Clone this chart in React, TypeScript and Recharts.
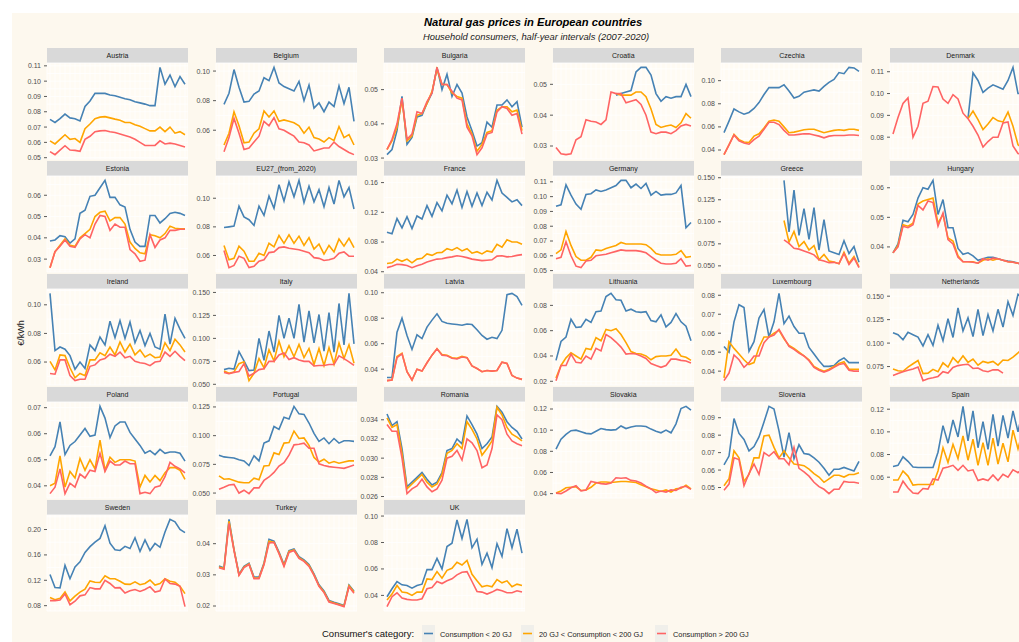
import React from "react";
import { LineChart, Line, XAxis, YAxis, CartesianGrid } from "recharts";

// half-year periods 2007S1 .. 2020S2
const periods = [
  "2007S1", "2007S2", "2008S1", "2008S2", "2009S1", "2009S2", "2010S1", "2010S2",
  "2011S1", "2011S2", "2012S1", "2012S2", "2013S1", "2013S2", "2014S1", "2014S2",
  "2015S1", "2015S2", "2016S1", "2016S2", "2017S1", "2017S2", "2018S1", "2018S2",
  "2019S1", "2019S2", "2020S1", "2020S2",
];

const categories = [
  "Consumption < 20 GJ",
  "20 GJ < Consumption < 200 GJ",
  "Consumption > 200 GJ",
];

const N = null;
const n12 = [N, N, N, N, N, N, N, N, N, N, N, N];

const austria = {
  ticks: ["0.05", "0.06", "0.07", "0.08", "0.09", "0.10", "0.11"],
  small: [0.075, 0.073, 0.0755, 0.0785, 0.076, 0.0755, 0.074, 0.0835, 0.087, 0.092, 0.092, 0.092, 0.091, 0.0905, 0.0895, 0.0885, 0.0878, 0.0865, 0.0858, 0.085, 0.084, 0.084, 0.109, 0.098, 0.104, 0.0965, 0.103, 0.098],
  mid: [0.061, 0.059, 0.062, 0.065, 0.062, 0.0625, 0.06, 0.069, 0.072, 0.0755, 0.0765, 0.0768, 0.076, 0.0752, 0.0745, 0.073, 0.073, 0.0715, 0.0705, 0.069, 0.0675, 0.0675, 0.07, 0.067, 0.07, 0.066, 0.067, 0.065],
  large: [0.054, 0.052, 0.055, 0.0578, 0.055, 0.0548, 0.0542, 0.062, 0.064, 0.067, 0.0675, 0.0678, 0.067, 0.0665, 0.0655, 0.0645, 0.0635, 0.062, 0.06, 0.058, 0.058, 0.058, 0.061, 0.059, 0.0595, 0.059, 0.058, 0.057],
};

const belgium = {
  ticks: ["0.06", "0.08", "0.10"],
  small: [N, 0.0775, 0.085, 0.101, 0.089, 0.079, 0.0795, 0.0845, 0.0865, 0.0955, 0.0935, 0.1025, 0.092, 0.0895, 0.088, 0.0865, 0.093, 0.08, 0.0905, 0.075, 0.0785, 0.0725, 0.079, 0.076, 0.09, 0.078, 0.089, 0.066],
  mid: [N, 0.05, 0.058, 0.0725, 0.063, 0.0515, 0.052, 0.058, 0.061, 0.073, 0.069, 0.073, 0.066, 0.067, 0.066, 0.065, 0.063, 0.058, 0.062, 0.055, 0.054, 0.052, 0.055, 0.053, 0.0625, 0.055, 0.057, 0.05],
  large: [N, 0.0455, 0.055, 0.068, 0.058, 0.047, 0.048, 0.052, 0.056, 0.066, 0.063, 0.0685, 0.061, 0.06, 0.058, 0.056, 0.052, 0.0515, 0.05, 0.046, 0.047, 0.048, 0.048, 0.052, 0.049, 0.047, 0.045, 0.0435],
};

const bulgaria = {
  ticks: ["0.03", "0.04", "0.05"],
  small: [0.031, 0.0325, 0.038, 0.048, 0.034, 0.036, 0.042, 0.0425, 0.046, 0.049, 0.0565, 0.05, 0.0545, 0.048, 0.0515, 0.049, 0.042, 0.038, 0.0335, 0.0345, 0.0405, 0.039, 0.0455, 0.0455, 0.047, 0.045, 0.0465, 0.039],
  mid: [0.0325, 0.035, 0.039, 0.047, 0.035, 0.0365, 0.0425, 0.043, 0.046, 0.0495, 0.056, 0.0515, 0.0515, 0.049, 0.048, 0.0475, 0.04, 0.037, 0.032, 0.034, 0.0375, 0.038, 0.044, 0.045, 0.045, 0.0435, 0.044, 0.038],
  large: [0.0325, 0.0355, 0.04, 0.0475, 0.0355, 0.037, 0.0435, 0.043, 0.0465, 0.049, 0.0565, 0.0515, 0.0515, 0.0495, 0.0475, 0.047, 0.039, 0.0365, 0.031, 0.033, 0.037, 0.0375, 0.0435, 0.045, 0.0445, 0.0425, 0.043, 0.037],
};

const croatia = {
  ticks: ["0.03", "0.04", "0.05"],
  small: [...n12, 0.0465, 0.047, 0.0475, 0.048, 0.054, 0.0555, 0.0555, 0.053, 0.047, 0.0445, 0.046, 0.0455, 0.046, 0.046, 0.05, 0.046],
  mid: [...n12, 0.047, 0.0465, 0.0465, 0.0465, 0.0475, 0.0475, 0.046, 0.042, 0.037, 0.036, 0.0365, 0.0368, 0.036, 0.0375, 0.0405, 0.039],
  large: [0.0295, 0.0275, 0.0272, 0.0275, 0.032, 0.033, 0.0385, 0.038, 0.0378, 0.037, 0.0385, 0.0475, 0.047, 0.047, 0.044, 0.0445, 0.045, 0.0435, 0.04, 0.0345, 0.034, 0.0345, 0.0345, 0.034, 0.035, 0.0365, 0.037, 0.0365],
};

const czechia = {
  ticks: ["0.04", "0.06", "0.08", "0.10"],
  small: [0.055, 0.065, 0.0755, 0.073, 0.071, 0.0725, 0.076, 0.081, 0.088, 0.094, 0.094, 0.094, 0.0965, 0.091, 0.085, 0.0865, 0.09, 0.091, 0.092, 0.091, 0.095, 0.0985, 0.101, 0.107, 0.106, 0.1115, 0.111, 0.108],
  mid: [0.036, 0.0445, 0.0535, 0.049, 0.047, 0.0465, 0.052, 0.054, 0.059, 0.065, 0.066, 0.065, 0.06, 0.055, 0.0555, 0.0565, 0.0575, 0.058, 0.058, 0.0565, 0.055, 0.056, 0.057, 0.0575, 0.057, 0.058, 0.058, 0.057],
  large: [0.036, 0.0445, 0.053, 0.048, 0.046, 0.045, 0.049, 0.052, 0.058, 0.064, 0.064, 0.062, 0.057, 0.053, 0.053, 0.0535, 0.054, 0.054, 0.053, 0.052, 0.0505, 0.052, 0.0525, 0.0525, 0.0525, 0.053, 0.053, 0.0525],
};

const denmark = {
  ticks: ["0.08", "0.09", "0.10", "0.11"],
  small: [N, N, N, N, N, N, N, N, N, N, N, N, N, N, N, 0.0885, 0.1095, 0.106, 0.1005, 0.1025, 0.104, 0.103, 0.102, 0.106, 0.112, 0.1, 0.1, 0.101],
  mid: [N, N, N, N, N, N, N, N, N, N, N, N, N, N, N, 0.0885, 0.092, 0.088, 0.0835, 0.086, 0.089, 0.0875, 0.087, 0.0915, 0.085, 0.0765, 0.075, 0.076],
  large: [0.0815, 0.089, 0.0955, 0.098, 0.08, 0.085, 0.0955, 0.0965, 0.1032, 0.103, 0.0975, 0.0955, 0.0995, 0.0975, 0.091, 0.0885, 0.085, 0.081, 0.0755, 0.078, 0.08, 0.08, 0.0865, 0.087, 0.076, 0.0725, 0.072, 0.074],
};

const estonia = {
  ticks: ["0.03", "0.04", "0.05", "0.06"],
  small: [0.0385, 0.039, 0.041, 0.0405, 0.0375, 0.0395, 0.0515, 0.053, 0.0595, 0.06, 0.0635, 0.067, 0.059, 0.059, 0.0555, 0.0545, 0.044, 0.038, 0.036, 0.036, 0.0505, 0.0505, 0.047, 0.049, 0.0515, 0.052, 0.0515, 0.0505],
  mid: [0.026, 0.0335, 0.0365, 0.0395, 0.0365, 0.036, 0.04, 0.042, 0.044, 0.05, 0.052, 0.0525, 0.048, 0.0495, 0.0495, 0.0465, 0.038, 0.035, 0.033, 0.0325, 0.0415, 0.041, 0.04, 0.042, 0.0455, 0.0445, 0.0443, 0.0443],
  large: [0.026, 0.0335, 0.036, 0.039, 0.036, 0.0355, 0.0395, 0.0415, 0.04, 0.0465, 0.0505, 0.05, 0.0435, 0.0465, 0.045, 0.045, 0.0345, 0.0325, 0.029, 0.0295, 0.0415, 0.0355, 0.039, 0.04, 0.0435, 0.0435, 0.044, 0.044],
};

const eu27 = {
  ticks: ["0.06", "0.08", "0.10"],
  small: [N, 0.0795, 0.08, 0.0805, 0.0945, 0.087, 0.085, 0.081, 0.0945, 0.088, 0.1015, 0.093, 0.1095, 0.098, 0.1115, 0.101, 0.1125, 0.097, 0.1085, 0.0975, 0.106, 0.094, 0.1075, 0.096, 0.1125, 0.101, 0.1075, 0.0925],
  mid: [N, 0.067, 0.057, 0.058, 0.0665, 0.063, 0.056, 0.056, 0.0615, 0.06, 0.0685, 0.066, 0.074, 0.0685, 0.0745, 0.0685, 0.0735, 0.067, 0.0725, 0.0645, 0.068, 0.061, 0.067, 0.0625, 0.0715, 0.0665, 0.072, 0.0655],
  large: [N, 0.0635, 0.0515, 0.053, 0.0595, 0.058, 0.0515, 0.0525, 0.056, 0.057, 0.062, 0.0625, 0.0655, 0.066, 0.065, 0.0645, 0.064, 0.063, 0.062, 0.0585, 0.058, 0.0565, 0.057, 0.058, 0.0615, 0.0625, 0.0595, 0.0595],
};

const france = {
  ticks: ["0.04", "0.08", "0.12", "0.16"],
  small: [0.093, 0.091, 0.1115, 0.099, 0.114, 0.098, 0.115, 0.111, 0.129, 0.1145, 0.133, 0.122, 0.143, 0.1315, 0.15, 0.1265, 0.148, 0.128, 0.146, 0.129, 0.147, 0.1365, 0.163, 0.146, 0.14, 0.134, 0.137, 0.129],
  mid: [0.051, 0.052, 0.057, 0.054, 0.057, 0.052, 0.057, 0.058, 0.064, 0.062, 0.0655, 0.066, 0.071, 0.069, 0.0725, 0.068, 0.071, 0.065, 0.067, 0.064, 0.068, 0.0665, 0.077, 0.073, 0.083, 0.08, 0.08, 0.077],
  large: [0.0455, 0.0475, 0.05, 0.0495, 0.0485, 0.0455, 0.048, 0.05, 0.053, 0.055, 0.057, 0.0575, 0.059, 0.06, 0.0615, 0.0605, 0.059, 0.057, 0.056, 0.055, 0.0555, 0.056, 0.061, 0.0615, 0.06, 0.0605, 0.062, 0.063],
};

const germany = {
  ticks: ["0.05", "0.06", "0.07", "0.08", "0.09", "0.10", "0.11"],
  small: [0.0935, 0.0945, 0.108, 0.101, 0.095, 0.0915, 0.1015, 0.102, 0.1045, 0.1035, 0.1045, 0.106, 0.1075, 0.111, 0.111, 0.106, 0.1085, 0.1055, 0.109, 0.101, 0.1035, 0.101, 0.1015, 0.1015, 0.1025, 0.1075, 0.079, 0.0825],
  mid: [0.0615, 0.064, 0.0765, 0.067, 0.0595, 0.057, 0.057, 0.059, 0.064, 0.0635, 0.065, 0.066, 0.067, 0.069, 0.068, 0.068, 0.068, 0.068, 0.0675, 0.065, 0.0615, 0.0605, 0.0605, 0.0605, 0.061, 0.0635, 0.059, 0.0595],
  large: [0.058, 0.059, 0.0695, 0.06, 0.053, 0.052, 0.0565, 0.057, 0.06, 0.0605, 0.061, 0.062, 0.063, 0.064, 0.0635, 0.0635, 0.0635, 0.063, 0.062, 0.0595, 0.057, 0.055, 0.0545, 0.0545, 0.055, 0.058, 0.053, 0.0535],
};

const greece = {
  ticks: ["0.050", "0.075", "0.100", "0.125", "0.150"],
  small: [...n12, 0.147, 0.0885, 0.136, 0.0845, 0.115, 0.08, 0.116, 0.068, 0.1025, 0.067, 0.065, 0.063, 0.0785, 0.064, 0.072, 0.054],
  mid: [...n12, 0.1015, 0.077, 0.089, 0.072, 0.0775, 0.068, 0.073, 0.057, 0.063, 0.0555, 0.0545, 0.0525, 0.0655, 0.053, 0.0605, 0.049],
  large: [...n12, 0.0795, 0.0755, 0.07, 0.069, 0.067, 0.065, 0.0625, 0.057, 0.0555, 0.0535, 0.054, 0.0525, 0.064, 0.0515, 0.059, 0.048],
};

const hungary = {
  ticks: ["0.04", "0.05", "0.06"],
  small: [0.038, 0.041, 0.049, 0.0485, 0.051, 0.0565, 0.06, 0.0595, 0.0625, 0.051, 0.056, 0.0465, 0.0465, 0.0395, 0.0375, 0.038, 0.037, 0.0355, 0.036, 0.0365, 0.0365, 0.036, 0.0355, 0.0352, 0.035, 0.0345, 0.034, 0.0335],
  mid: [0.038, 0.0405, 0.0475, 0.047, 0.048, 0.0545, 0.0555, 0.056, 0.0565, 0.048, 0.051, 0.043, 0.042, 0.037, 0.035, 0.035, 0.035, 0.0345, 0.0355, 0.036, 0.0355, 0.036, 0.0355, 0.035, 0.0348, 0.0345, 0.034, 0.033],
  large: [0.038, 0.04, 0.047, 0.0465, 0.0475, 0.054, 0.0525, 0.0555, 0.055, 0.047, 0.0515, 0.0425, 0.041, 0.0365, 0.035, 0.035, 0.0348, 0.0345, 0.036, 0.0355, 0.0362, 0.036, 0.0355, 0.035, 0.0348, 0.0345, 0.034, 0.033],
};

const ireland = {
  ticks: ["0.06", "0.08", "0.10"],
  small: [0.108, 0.068, 0.0705, 0.069, 0.0645, 0.055, 0.06, 0.0555, 0.072, 0.068, 0.0775, 0.072, 0.0885, 0.077, 0.089, 0.0765, 0.088, 0.0735, 0.082, 0.0715, 0.08, 0.0705, 0.069, 0.0935, 0.0725, 0.0905, 0.083, 0.0765],
  mid: [0.0605, 0.0545, 0.065, 0.0645, 0.056, 0.049, 0.052, 0.0505, 0.0615, 0.0615, 0.0665, 0.0645, 0.0705, 0.065, 0.074, 0.067, 0.0725, 0.065, 0.0685, 0.0635, 0.0655, 0.063, 0.0635, 0.0735, 0.068, 0.076, 0.072, 0.067],
  large: [0.052, 0.0515, 0.0615, 0.0615, 0.0505, 0.047, 0.048, 0.048, 0.057, 0.058, 0.0615, 0.0625, 0.0655, 0.064, 0.067, 0.063, 0.064, 0.0605, 0.0595, 0.059, 0.0575, 0.06, 0.0605, 0.067, 0.064, 0.0675, 0.064, 0.061],
};

const italy = {
  ticks: ["0.050", "0.075", "0.100", "0.125", "0.150"],
  small: [N, 0.066, 0.0675, 0.0665, 0.0855, 0.0755, 0.065, 0.0655, 0.1, 0.076, 0.108, 0.085, 0.125, 0.1, 0.122, 0.1, 0.137, 0.096, 0.13, 0.095, 0.126, 0.086, 0.128, 0.085, 0.138, 0.093, 0.149, 0.094],
  mid: [N, 0.0645, 0.062, 0.0635, 0.0725, 0.0745, 0.054, 0.062, 0.078, 0.068, 0.0875, 0.0755, 0.097, 0.08, 0.092, 0.08, 0.0935, 0.079, 0.089, 0.0715, 0.089, 0.0705, 0.09, 0.072, 0.095, 0.078, 0.093, 0.073],
  large: [N, 0.063, 0.0615, 0.063, 0.064, 0.0725, 0.059, 0.062, 0.066, 0.067, 0.075, 0.075, 0.082, 0.084, 0.077, 0.079, 0.0765, 0.075, 0.075, 0.07, 0.0705, 0.0705, 0.0715, 0.0715, 0.081, 0.078, 0.0745, 0.0705],
};

const latvia = {
  ticks: ["0.04", "0.06", "0.08", "0.10"],
  small: [0.0335, 0.0335, 0.069, 0.08, 0.0665, 0.0555, 0.067, 0.064, 0.073, 0.0785, 0.0835, 0.0775, 0.076, 0.0755, 0.075, 0.0745, 0.0755, 0.075, 0.071, 0.0665, 0.0635, 0.065, 0.064, 0.0705, 0.0985, 0.0995, 0.097, 0.09],
  mid: [0.031, 0.0315, 0.05, 0.0525, 0.038, 0.0315, 0.04, 0.0385, 0.045, 0.051, 0.056, 0.0515, 0.051, 0.049, 0.0485, 0.05, 0.049, 0.0425, 0.0405, 0.038, 0.039, 0.0385, 0.039, 0.0455, 0.0445, 0.035, 0.033, 0.032],
  large: [0.031, 0.0315, 0.049, 0.052, 0.038, 0.0315, 0.04, 0.0385, 0.045, 0.051, 0.056, 0.051, 0.0505, 0.0485, 0.048, 0.0495, 0.049, 0.0425, 0.0405, 0.038, 0.039, 0.0385, 0.039, 0.0455, 0.0445, 0.035, 0.033, 0.032],
};

const lithuania = {
  ticks: ["0.02", "0.04", "0.06", "0.08"],
  small: [0.0365, 0.0515, 0.055, 0.069, 0.0625, 0.063, 0.069, 0.0665, 0.075, 0.0755, 0.087, 0.0895, 0.0845, 0.084, 0.0755, 0.077, 0.075, 0.0745, 0.075, 0.068, 0.067, 0.0725, 0.063, 0.0665, 0.0735, 0.067, 0.0635, 0.052],
  mid: [0.0225, 0.0325, 0.0385, 0.0425, 0.04, 0.0375, 0.046, 0.045, 0.0545, 0.052, 0.061, 0.06, 0.0615, 0.057, 0.0505, 0.0435, 0.042, 0.0415, 0.04, 0.037, 0.0395, 0.04, 0.04, 0.0405, 0.0455, 0.04, 0.039, 0.0365],
  large: [0.0205, 0.0325, 0.0325, 0.0415, 0.035, 0.0345, 0.04, 0.0375, 0.046, 0.044, 0.057, 0.0545, 0.051, 0.047, 0.0415, 0.042, 0.0415, 0.04, 0.038, 0.034, 0.0325, 0.031, 0.0325, 0.0375, 0.0375, 0.0365, 0.036, 0.0345],
};

const luxembourg = {
  ticks: ["0.04", "0.05", "0.06", "0.07", "0.08"],
  small: [0.053, 0.05, 0.066, 0.075, 0.0735, 0.0505, 0.0555, 0.068, 0.0725, 0.058, 0.066, 0.081, 0.065, 0.069, 0.0635, 0.06, 0.06, 0.0525, 0.049, 0.0455, 0.0425, 0.0425, 0.043, 0.0455, 0.047, 0.0445, 0.0445, 0.0445],
  mid: [0.0365, 0.0555, 0.052, 0.049, 0.046, 0.0435, 0.0445, 0.0525, 0.058, 0.058, 0.06, 0.0615, 0.057, 0.0535, 0.052, 0.05, 0.048, 0.046, 0.0425, 0.041, 0.04, 0.041, 0.0425, 0.044, 0.045, 0.041, 0.041, 0.041],
  large: [0.035, 0.039, 0.0485, 0.046, 0.042, 0.0445, 0.048, 0.048, 0.055, 0.058, 0.059, 0.062, 0.0575, 0.053, 0.0515, 0.0495, 0.048, 0.0455, 0.042, 0.0405, 0.0395, 0.0405, 0.042, 0.0435, 0.044, 0.0405, 0.04, 0.04],
};

const netherlands = {
  ticks: ["0.075", "0.100", "0.125", "0.150"],
  small: [0.111, 0.109, 0.1035, 0.1115, 0.109, 0.1065, 0.097, 0.109, 0.0975, 0.119, 0.1025, 0.126, 0.106, 0.1375, 0.113, 0.127, 0.107, 0.136, 0.108, 0.1305, 0.113, 0.136, 0.117, 0.144, 0.1295, 0.152, 0.148, 0.153],
  mid: [0.0725, 0.0705, 0.07, 0.0745, 0.078, 0.0815, 0.0675, 0.068, 0.072, 0.0695, 0.079, 0.0745, 0.0845, 0.079, 0.0865, 0.0795, 0.083, 0.0765, 0.0805, 0.079, 0.0805, 0.0765, 0.082, 0.0815, 0.085, 0.0895, 0.095, 0.0985],
  large: [0.0655, 0.0675, 0.0695, 0.071, 0.0725, 0.0745, 0.06, 0.062, 0.063, 0.0645, 0.0695, 0.068, 0.074, 0.076, 0.077, 0.0775, 0.073, 0.0735, 0.0705, 0.0695, 0.0715, 0.0715, 0.068, N, N, N, N, N],
};

const poland = {
  ticks: ["0.04", "0.05", "0.06", "0.07"],
  small: [0.0515, 0.055, 0.0645, 0.052, 0.0555, 0.057, 0.0595, 0.062, 0.059, 0.0595, 0.0705, 0.066, 0.0585, 0.063, 0.0645, 0.0645, 0.0605, 0.058, 0.0555, 0.0525, 0.0535, 0.052, 0.054, 0.0525, 0.053, 0.053, 0.0525, 0.0495],
  mid: [0.04, 0.041, 0.0515, 0.0395, 0.0455, 0.043, 0.0505, 0.046, 0.05, 0.0465, 0.0575, 0.046, 0.051, 0.049, 0.05, 0.05, 0.05, 0.0495, 0.0395, 0.044, 0.0415, 0.044, 0.042, 0.045, 0.047, 0.047, 0.046, 0.0425],
  large: [0.037, 0.0395, 0.0465, 0.037, 0.041, 0.0395, 0.0445, 0.043, 0.046, 0.0455, 0.0525, 0.0455, 0.0495, 0.048, 0.048, 0.0495, 0.0485, 0.0485, 0.037, 0.0375, 0.037, 0.0395, 0.04, 0.0435, 0.049, 0.0475, 0.0465, 0.045],
};

const portugal = {
  ticks: ["0.050", "0.075", "0.100", "0.125"],
  small: [0.083, 0.0815, 0.081, 0.0805, 0.079, 0.078, 0.074, 0.0825, 0.078, 0.0935, 0.0955, 0.108, 0.1055, 0.116, 0.1145, 0.1255, 0.119, 0.1185, 0.111, 0.102, 0.095, 0.098, 0.093, 0.0975, 0.0935, 0.0955, 0.0955, 0.095],
  mid: [0.065, 0.062, 0.0625, 0.061, 0.0595, 0.059, 0.059, 0.063, 0.0615, 0.0735, 0.074, 0.085, 0.0835, 0.0935, 0.094, 0.104, 0.0975, 0.098, 0.0915, 0.081, 0.077, 0.0795, 0.076, 0.0775, 0.076, 0.077, 0.078, 0.078],
  large: [0.0533, 0.055, 0.057, 0.0575, 0.05, 0.0525, 0.0495, 0.0545, 0.0545, 0.061, 0.064, 0.068, 0.0735, 0.0765, 0.083, 0.092, 0.0925, 0.0935, 0.089, 0.089, 0.0755, 0.074, 0.073, 0.0725, 0.072, 0.0715, 0.073, 0.0745],
};

const romania = {
  ticks: ["0.026", "0.028", "0.030", "0.032", "0.034"],
  small: [0.0346, 0.0334, 0.0338, 0.031, 0.027, 0.0275, 0.028, 0.0285, 0.0278, 0.0272, 0.0275, 0.0285, 0.0308, 0.031, 0.032, 0.0315, 0.0344, 0.0335, 0.0325, 0.031, 0.0315, 0.0322, 0.0354, 0.0348, 0.0338, 0.0332, 0.0328, 0.032],
  mid: [0.0342, 0.0332, 0.0335, 0.0305, 0.0268, 0.0273, 0.0278, 0.0283, 0.0275, 0.027, 0.0273, 0.0283, 0.0305, 0.0308, 0.0315, 0.031, 0.0338, 0.033, 0.032, 0.0303, 0.031, 0.0318, 0.0353, 0.0345, 0.0332, 0.0325, 0.0322, 0.0318],
  large: [0.0335, 0.0328, 0.0328, 0.03, 0.0263, 0.0268, 0.0271, 0.0278, 0.027, 0.0265, 0.0268, 0.0277, 0.03, 0.0302, 0.0308, 0.0298, 0.032, 0.0316, 0.0308, 0.029, 0.0293, 0.031, 0.0345, 0.034, 0.0325, 0.0318, 0.0315, 0.0313],
};

const slovakia = {
  ticks: ["0.04", "0.06", "0.08", "0.10", "0.12"],
  small: [0.082, 0.0915, 0.096, 0.0995, 0.1, 0.0985, 0.097, 0.0965, 0.099, 0.1015, 0.1005, 0.1, 0.1005, 0.104, 0.1015, 0.103, 0.104, 0.104, 0.1035, 0.101, 0.099, 0.0975, 0.1, 0.0975, 0.106, 0.1205, 0.1225, 0.119],
  mid: [0.0405, 0.0425, 0.0455, 0.046, 0.0465, 0.043, 0.0435, 0.046, 0.05, 0.051, 0.051, 0.0505, 0.051, 0.0515, 0.0515, 0.051, 0.0505, 0.0485, 0.0465, 0.0445, 0.0435, 0.042, 0.0435, 0.0415, 0.0445, 0.045, 0.048, 0.0445],
  large: [0.0405, 0.04, 0.0425, 0.0455, 0.0475, 0.0425, 0.0435, 0.0515, 0.0505, 0.0495, 0.049, 0.05, 0.055, 0.0545, 0.055, 0.0525, 0.052, 0.05, 0.047, 0.0445, 0.041, 0.0425, 0.0415, 0.0435, 0.043, 0.046, 0.047, 0.044],
};

const slovenia = {
  ticks: ["0.05", "0.06", "0.07", "0.08", "0.09"],
  small: [0.063, 0.068, 0.0895, 0.081, 0.0775, 0.071, 0.0735, 0.079, 0.0875, 0.0965, 0.095, 0.0825, 0.0675, 0.0815, 0.0665, 0.0745, 0.0695, 0.069, 0.067, 0.0645, 0.061, 0.057, 0.0605, 0.0605, 0.0615, 0.0605, 0.0595, 0.065],
  mid: [0.051, 0.055, 0.071, 0.067, 0.0535, 0.0575, 0.067, 0.067, 0.0795, 0.08, 0.073, 0.067, 0.071, 0.067, 0.0635, 0.063, 0.0625, 0.0605, 0.058, 0.056, 0.053, 0.055, 0.057, 0.057, 0.056, 0.0575, 0.0575, 0.0585],
  large: [0.0485, 0.052, 0.067, 0.066, 0.051, 0.058, 0.0635, 0.0575, 0.07, 0.068, 0.0705, 0.0665, 0.0665, 0.063, 0.073, 0.061, 0.059, 0.0565, 0.053, 0.0505, 0.049, 0.0465, 0.049, 0.049, 0.0535, 0.053, 0.053, 0.0525],
};

const spain = {
  ticks: ["0.06", "0.08", "0.10", "0.12"],
  small: [0.0695, 0.0705, 0.078, 0.074, 0.069, 0.0685, 0.0685, 0.0685, 0.0685, 0.082, 0.1055, 0.09, 0.1105, 0.0955, 0.1225, 0.092, 0.1185, 0.086, 0.109, 0.0845, 0.1155, 0.0875, 0.1145, 0.0945, 0.1185, 0.1, 0.12, 0.105],
  mid: [0.0575, 0.0575, 0.0655, 0.061, 0.053, 0.0535, 0.0535, 0.0535, 0.0535, 0.0655, 0.086, 0.073, 0.089, 0.0765, 0.0965, 0.075, 0.0935, 0.0705, 0.0905, 0.0705, 0.0945, 0.0715, 0.09, 0.0735, 0.1015, 0.085, 0.102, 0.09],
  large: [0.047, 0.047, 0.0565, 0.0505, 0.046, 0.0455, 0.05, 0.0495, 0.0585, 0.0575, 0.068, 0.069, 0.0705, 0.066, 0.0705, 0.0655, 0.0665, 0.057, 0.0585, 0.057, 0.062, 0.057, 0.0625, 0.06, 0.0665, 0.064, 0.068, 0.066],
};

const sweden = {
  ticks: ["0.08", "0.12", "0.16", "0.20"],
  small: [0.129, 0.1085, 0.108, 0.1435, 0.1225, 0.141, 0.149, 0.164, 0.173, 0.18, 0.186, 0.206, 0.1785, 0.168, 0.167, 0.1735, 0.17, 0.187, 0.1655, 0.1835, 0.167, 0.178, 0.172, 0.196, 0.216, 0.212, 0.2, 0.195],
  mid: [0.093, 0.0895, 0.0915, 0.1015, 0.0875, 0.095, 0.1015, 0.106, 0.119, 0.117, 0.1165, 0.127, 0.1225, 0.1225, 0.1185, 0.114, 0.1135, 0.1175, 0.113, 0.115, 0.1205, 0.1125, 0.115, 0.1225, 0.1185, 0.117, 0.1105, 0.099],
  large: [0.088, 0.088, 0.089, 0.0985, 0.0815, 0.087, 0.0955, 0.097, 0.1085, 0.1065, 0.1065, 0.12, 0.115, 0.108, 0.1085, 0.1, 0.1035, 0.1055, 0.1025, 0.1055, 0.11, 0.1015, 0.1035, 0.122, 0.115, 0.114, 0.1105, 0.0785],
};

const turkey = {
  ticks: ["0.02", "0.03", "0.04"],
  small: [0.0328, 0.0322, 0.0478, 0.0382, 0.0302, 0.0327, 0.0337, 0.0293, 0.0293, 0.0338, 0.0414, 0.0408, 0.0373, 0.0333, 0.0378, 0.0383, 0.0358, 0.0348, 0.0333, 0.0303, 0.0268, 0.0248, 0.0218, 0.0212, 0.0207, 0.0202, 0.0267, 0.0247],
  mid: [0.0325, 0.032, 0.0472, 0.038, 0.03, 0.0325, 0.0335, 0.029, 0.029, 0.0335, 0.0408, 0.0405, 0.037, 0.033, 0.0375, 0.038, 0.0355, 0.0345, 0.033, 0.03, 0.0265, 0.0245, 0.0215, 0.021, 0.0205, 0.02, 0.0265, 0.0245],
  large: [0.0323, 0.0318, 0.0465, 0.0378, 0.0298, 0.0323, 0.0333, 0.0288, 0.0288, 0.0332, 0.0402, 0.0404, 0.0368, 0.0327, 0.0372, 0.0378, 0.0353, 0.0343, 0.0327, 0.0298, 0.0263, 0.0243, 0.0213, 0.0208, 0.0203, 0.0198, 0.0262, 0.0241],
};

const uk = {
  ticks: ["0.04", "0.06", "0.08", "0.10"],
  small: [0.039, 0.045, 0.0505, 0.048, 0.0475, 0.0455, 0.0475, 0.0485, 0.0595, 0.0595, 0.068, 0.06, 0.077, 0.0795, 0.097, 0.083, 0.0975, 0.076, 0.0825, 0.0635, 0.072, 0.061, 0.079, 0.0695, 0.0905, 0.076, 0.09, 0.072],
  mid: [0.0365, 0.041, 0.0475, 0.0425, 0.042, 0.04, 0.0425, 0.0425, 0.0525, 0.052, 0.058, 0.053, 0.059, 0.0605, 0.065, 0.063, 0.0665, 0.056, 0.051, 0.0465, 0.0475, 0.0465, 0.052, 0.0495, 0.051, 0.0465, 0.0485, 0.0475],
  large: [0.0315, 0.039, 0.042, 0.038, 0.037, 0.0365, 0.0365, 0.0375, 0.045, 0.046, 0.0505, 0.049, 0.051, 0.0525, 0.0555, 0.0575, 0.058, 0.0505, 0.043, 0.0425, 0.041, 0.0425, 0.0445, 0.0435, 0.042, 0.042, 0.0435, 0.0425],
};

const panels: [string, any][] = [
  ["Austria", austria], ["Belgium", belgium], ["Bulgaria", bulgaria],
  ["Croatia", croatia], ["Czechia", czechia], ["Denmark", denmark],
  ["Estonia", estonia], ["EU27_(from_2020)", eu27], ["France", france],
  ["Germany", germany], ["Greece", greece], ["Hungary", hungary],
  ["Ireland", ireland], ["Italy", italy], ["Latvia", latvia],
  ["Lithuania", lithuania], ["Luxembourg", luxembourg], ["Netherlands", netherlands],
  ["Poland", poland], ["Portugal", portugal], ["Romania", romania],
  ["Slovakia", slovakia], ["Slovenia", slovenia], ["Spain", spain],
  ["Sweden", sweden], ["Turkey", turkey], ["UK", uk],
];

const COLORS = ["#4682B4", "#FFA500", "#FF6464"];
const FONT = "'Liberation Sans', Arial, Helvetica, sans-serif";
const BG = "#FDF8EE";
const PANEL_BG = "#FFFBF3";

const PLOT_W = 141;
const PLOT_H = 96;
const AXIS_W = 44;
const PAD = 6; // room so edge tick labels are not clipped
const COL_X = 47;
const COL_STEP = 168.6;
const ROW_Y = 48;
const ROW_STEP = 113;
const STRIP_H = 15;

function Panel({ name, d, idx }: { name: string; d: any; idx: number }) {
  const col = idx % 6;
  const row = Math.floor(idx / 6);
  const left = COL_X + col * COL_STEP;
  const top = ROW_Y + row * ROW_STEP;

  const data = periods.map((p, i) => ({
    period: p,
    small: d.small[i] ?? null,
    mid: d.mid[i] ?? null,
    large: d.large[i] ?? null,
  }));
  const vals = [...d.small, ...d.mid, ...d.large].filter((v: any) => v != null);
  const lo = Math.min(...vals);
  const hi = Math.max(...vals);
  const pad = (hi - lo) * 0.05;
  const domain = [lo - pad, hi + pad];
  const inside = (v: number) => v >= domain[0] && v <= domain[1];

  const labels: string[] = d.ticks.filter((t: string) => inside(Number(t)));
  const step = Number(d.ticks[1]) - Number(d.ticks[0]);
  const base = Number(d.ticks[0]);
  const all: number[] = labels.map(Number);
  for (let k = -1; k < d.ticks.length; k++) {
    const m = base + (k + 0.5) * step;
    if (inside(m)) all.push(m);
  }
  all.sort((a, b) => a - b);

  const renderTick = (p: any) => {
    const lab = labels.find((t) => Math.abs(Number(t) - p.payload.value) < 1e-9);
    if (!lab) return <g />;
    return (
      <g>
        <line x1={p.x + 3} x2={p.x + 6} y1={p.y} y2={p.y} stroke="#333333" strokeWidth={0.8} />
        <text x={p.x} y={p.y} dy="0.35em" textAnchor="end" fontSize={7} fill="#4D4D4D" fontFamily={FONT}>
          {lab}
        </text>
      </g>
    );
  };

  return (
    <>
      <div
        style={{
          position: "absolute",
          left,
          top,
          width: PLOT_W,
          height: STRIP_H,
          background: "#D9D9D9",
          color: "#1A1A1A",
          fontSize: 7,
          lineHeight: `${STRIP_H}px`,
          textAlign: "center",
          fontFamily: FONT,
        }}
      >
        {name}
      </div>
      <div style={{ position: "absolute", left: left - AXIS_W, top: top + STRIP_H - PAD }}>
        <LineChart
          width={AXIS_W + PLOT_W}
          height={PLOT_H + 2 * PAD}
          data={data}
          margin={{ top: PAD, right: 0, bottom: PAD, left: 0 }}
        >
          <CartesianGrid stroke="#FFFFFF" strokeWidth={0.8} fill={PANEL_BG} />
          <XAxis dataKey="period" type="category" hide padding={{ left: 3, right: 3 }} interval={0} />
          <YAxis
            type="number"
            domain={domain}
            ticks={all}
            interval={0}
            allowDataOverflow
            width={AXIS_W}
            axisLine={false}
            tickLine={false}
            tickSize={3}
            tickMargin={3}
            tick={renderTick}
          />
          {["small", "mid", "large"].map((k, i) => (
            <Line
              key={k}
              dataKey={k}
              type="linear"
              stroke={COLORS[i]}
              strokeWidth={1.6}
              dot={false}
              isAnimationActive={false}
            />
          ))}
        </LineChart>
      </div>
    </>
  );
}

export default function App() {
  const legendX = [440, 539, 673];
  return (
    <div style={{ position: "relative", width: 1019, height: 642, overflow: "hidden", background: "#FFFFFF", fontFamily: FONT }}>
      <style>{"body{margin:0;overflow:hidden}"}</style>
      <svg width={1019} height={642} style={{ position: "absolute", left: 0, top: 0 }}>
        <rect x={12} y={13} width={1019} height={629} fill={BG} />
        <text x={533} y={26} textAnchor="middle" fontSize={11.2} fontWeight="bold" fontStyle="italic" fill="#000" fontFamily={FONT}>
          Natural gas prices in European countries
        </text>
        <text x={536} y={40} textAnchor="middle" fontSize={9.4} fontStyle="italic" fill="#222" fontFamily={FONT}>
          Household consumers, half-year intervals (2007-2020)
        </text>
        <text transform="translate(24,333) rotate(-90)" textAnchor="middle" fontSize={9} fill="#222" fontFamily={FONT}>
          €/kWh
        </text>
        <text x={322} y={637} fontSize={9.5} fill="#111" fontFamily={FONT}>
          Consumer's category:
        </text>
        {categories.map((c, i) => (
          <g key={c}>
            <rect x={legendX[i] - 18} y={625} width={13} height={17} fill="#F0EFEA" />
            <line x1={legendX[i] - 16} x2={legendX[i] - 7} y1={633.5} y2={633.5} stroke={COLORS[i]} strokeWidth={1.6} />
            <text x={legendX[i]} y={636.5} fontSize={7.4} fill="#222" fontFamily={FONT}>
              {c}
            </text>
          </g>
        ))}
      </svg>
      {panels.map(([name, d], i) => (
        <Panel key={name} name={name} d={d} idx={i} />
      ))}
    </div>
  );
}
